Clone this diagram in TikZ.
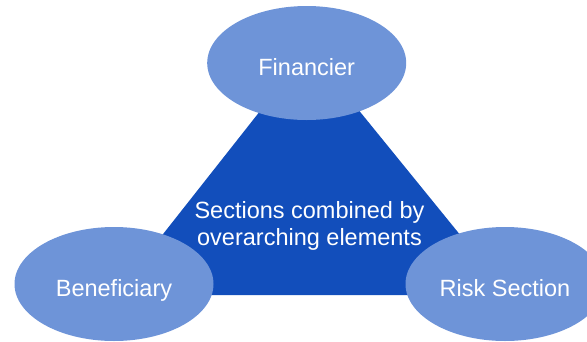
\documentclass[tikz,border=0pt]{standalone}
\usepackage{fontspec}
\setmainfont{Liberation Sans}
\usetikzlibrary{shapes.geometric}
\definecolor{coreblue}{HTML}{124EBB}
\definecolor{partyblue}{HTML}{6E94D8}
\begin{document}
\begin{tikzpicture}[x=1pt,y=-1pt,
  party/.style={ellipse, fill=partyblue, draw=none, inner sep=0pt,
    minimum width=199pt, minimum height=114pt, text=white,
    text height=24pt, text depth=0pt,
    font=\fontsize{23.5}{28}\selectfont},
  core/.style={text=white, align=center, inner sep=0pt,
    font=\fontsize{23.5}{27}\selectfont}]
  \useasboundingbox (0,0) rectangle (587,341);
  \clip (0,0) rectangle (587,341);
  % shared core: the triangle joining the three sections
  \coordinate (apex) at (309,49);
  \coordinate (baseL) at (115,295);
  \coordinate (baseR) at (509,295);
  \fill[coreblue] (apex) -- (baseL) -- (baseR) -- cycle;
  \node[core] (core) at (309.5,226) {Sections combined by\\overarching elements};
  % the three sections
  \node[party] (fin) at (306.7,63) {Financier};
  \node[party] (ben) at (114,284) {Beneficiary};
  \node[party] (risk) at (505,284) {Risk Section};
\end{tikzpicture}
\end{document}
